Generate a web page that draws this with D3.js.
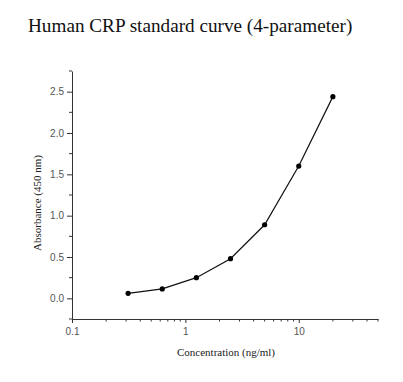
<!DOCTYPE html>
<html>
<head>
<meta charset="utf-8">
<script src="https://cdn.jsdelivr.net/npm/d3@7"></script>
<style>
  body { margin: 0; background: #fff; }
  svg { display: block; }
  .tick text { font-family: "Liberation Sans", Arial, sans-serif; font-size: 10px; fill: #555; }
  .axis path, .axis line { stroke: #333; }
  .title { font-family: "Liberation Serif", "Times New Roman", serif; font-size: 19.2px; fill: #111; }
  .label { font-family: "Liberation Serif", "Times New Roman", serif; font-size: 11px; fill: #222; }
</style>
</head>
<body>
<div id="chart"></div>
<script>
// standard concentrations and measured absorbance
const concentration = [0.3125, 0.625, 1.25, 2.5, 5, 10, 20];
const absorbance = [0.06, 0.114, 0.25, 0.48, 0.89, 1.6, 2.44];

const xMajor = [0.1, 1, 10];
const xMinor = [0.2, 0.3, 0.4, 0.5, 0.6, 0.7, 0.8, 0.9, 2, 3, 4, 5, 6, 7, 8, 9, 20, 30, 40, 50];
const yMajor = [0, 0.5, 1.0, 1.5, 2.0, 2.5];
const yMinor = [-0.25, 0.25, 0.75, 1.25, 1.75, 2.25, 2.75];

const width = 403;
const height = 382;
const margin = { left: 72, right: 25, top: 71, bottom: 63 };

const svg = d3.select('#chart')
    .append('svg')
    .attr('width', width)
    .attr('height', height);

const x = d3.scaleLog()
    .domain([0.1, 50])
    .range([margin.left, width - margin.right]);

const y = d3.scaleLinear()
    .domain([-0.25, 2.75])
    .range([height - margin.bottom, margin.top]);

// title
svg.append('text')
    .attr('class', 'title')
    .attr('x', 28)
    .attr('y', 32)
    .text('Human CRP standard curve (4-parameter)');

// x axis
const xAxis = svg.append('g')
    .attr('class', 'axis')
    .attr('transform', `translate(0,${height - margin.bottom})`);

xAxis.call(d3.axisBottom(x)
    .tickValues(xMajor)
    .tickFormat(d3.format('~g'))
    .tickSize(4)
    .tickSizeOuter(0)
    .tickPadding(5));

xAxis.selectAll('.minor')
    .data(xMinor)
    .enter().append('line')
    .attr('class', 'minor')
    .attr('x1', d => x(d))
    .attr('x2', d => x(d))
    .attr('y1', 0)
    .attr('y2', 2.5);

// y axis
const yAxis = svg.append('g')
    .attr('class', 'axis')
    .attr('transform', `translate(${margin.left},0)`);

yAxis.call(d3.axisLeft(y)
    .tickValues(yMajor)
    .tickFormat(d3.format('.1f'))
    .tickSize(5)
    .tickSizeOuter(0)
    .tickPadding(3));

yAxis.selectAll('.minor')
    .data(yMinor)
    .enter().append('line')
    .attr('class', 'minor')
    .attr('x1', 0)
    .attr('x2', -3)
    .attr('y1', d => y(d))
    .attr('y2', d => y(d));

// axis titles
svg.append('text')
    .attr('class', 'label')
    .attr('x', (x.range()[0] + x.range()[1]) / 2 + 1)
    .attr('y', 356)
    .attr('text-anchor', 'middle')
    .text('Concentration (ng/ml)');

svg.append('text')
    .attr('class', 'label')
    .attr('transform', `translate(41,${(y.range()[0] + y.range()[1]) / 2 + 8}) rotate(-90)`)
    .attr('text-anchor', 'middle')
    .text('Absorbance (450 nm)');

// data
const points = concentration.map((c, i) => ({ c, a: absorbance[i] }));

const line = d3.line()
    .x(d => x(d.c))
    .y(d => y(d.a));

svg.append('path')
    .datum(points)
    .attr('d', line)
    .attr('fill', 'none')
    .attr('stroke', '#111')
    .attr('stroke-width', 1.2);

svg.selectAll('.dot')
    .data(points)
    .enter().append('circle')
    .attr('class', 'dot')
    .attr('cx', d => x(d.c))
    .attr('cy', d => y(d.a))
    .attr('r', 2.6)
    .attr('fill', '#000');
</script>
</body>
</html>
